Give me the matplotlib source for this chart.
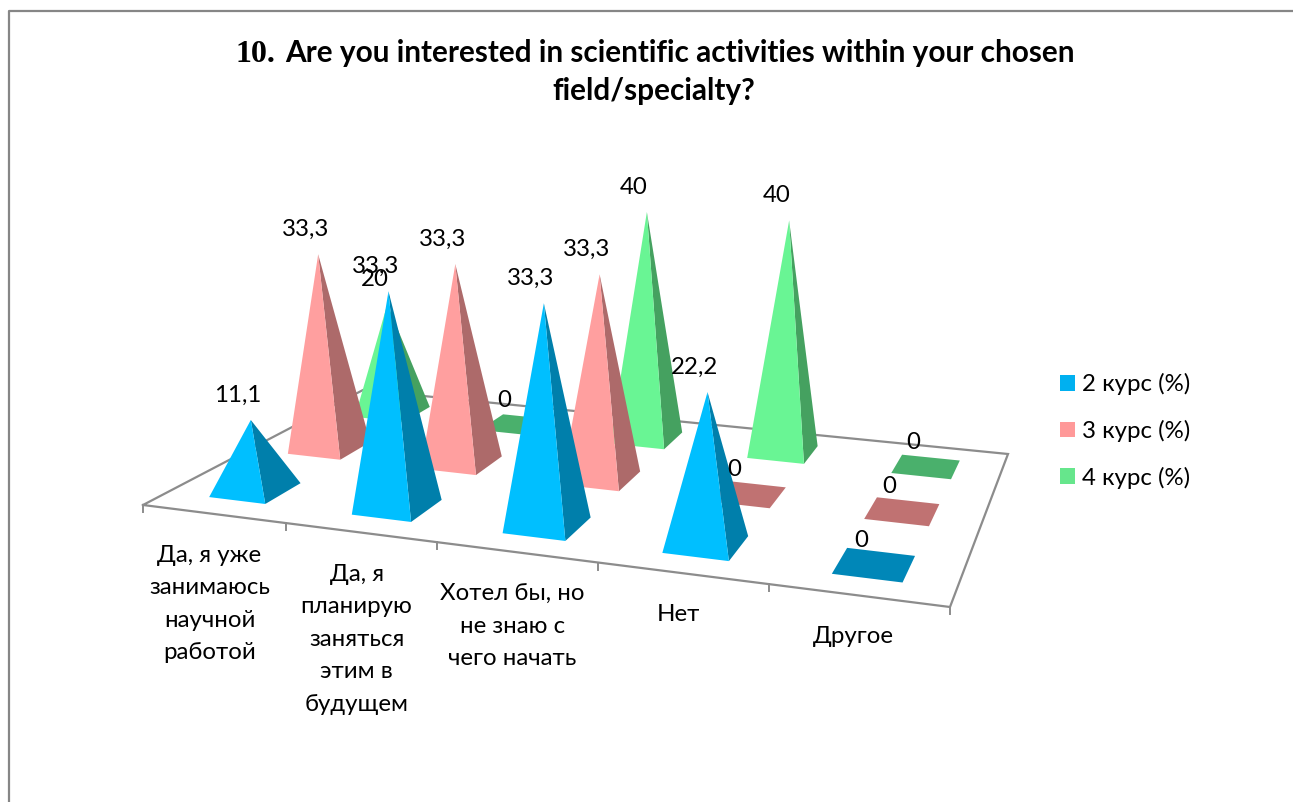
import numpy as np
import matplotlib
matplotlib.use('Agg')
import matplotlib.pyplot as plt
from matplotlib.patches import Polygon, Patch

plt.rcParams['font.family'] = ['Lato', 'Noto Sans', 'DejaVu Sans']

# data
title_num = '10.'
title_line1 = 'Are you interested in scientific activities within your chosen'
title_line2 = 'field/specialty?'
categories = [
    ['Да, я уже', 'занимаюсь', 'научной', 'работой'],
    ['Да, я', 'планирую', 'заняться', 'этим в', 'будущем'],
    ['Хотел бы, но', 'не знаю с', 'чего начать'],
    ['Нет'],
    ['Другое'],
]
series_names = ['2 курс (%)', '3 курс (%)', '4 курс (%)']
course2 = [11.1, 33.3, 33.3, 22.2, 0]
course3 = [33.3, 33.3, 33.3, 0, 0]
course4 = [20, 0, 40, 40, 0]
all_series = [course2, course3, course4]

front_col = ['#00BFFF', '#FF9F9F', '#69F594']
side_col = ['#007FAB', '#AD6A6A', '#45A160']
flat_col = ['#0087B8', '#C07272', '#4AB06C']
legend_col = ['#00B0F0', '#FF9999', '#66E68C']
grey = '#8C8C8C'

# floor corners in the picture: (category, series) -> pixels
floor_src = [(0, 0), (5, 0), (5, 3), (0, 3)]
floor_dst = [(143, 505), (950, 607), (1008, 454), (363, 390)]

A = []
b = []
for (u, v), (x, y) in zip(floor_src, floor_dst):
    A.append([u, v, 1, 0, 0, 0, -u * x, -v * x])
    A.append([0, 0, 0, u, v, 1, -u * y, -v * y])
    b.extend([x, y])
H = np.append(np.linalg.solve(np.array(A, float), np.array(b, float)), 1).reshape(3, 3)


def project(u, v, z=0):
    w = H[2, 0] * u + H[2, 1] * v + H[2, 2]
    x = (H[0, 0] * u + H[0, 1] * v + H[0, 2]) / w
    y = (H[1, 0] * u + H[1, 1] * v + H[1, 2]) / w
    # heights grow towards the viewer, verticals lean outwards a little
    return x + (x - 640) * z * 0.0011, y - z * 6.5 / w


fig = plt.figure(figsize=(12.93, 8.02), dpi=100)
ax = fig.add_axes([0, 0, 1, 1])
ax.set_xlim(0, 1293)
ax.set_ylim(802, 0)
ax.axis('off')

# chart frame
ax.plot([9, 9, 1293], [802, 11, 11], color='#868686', lw=1.6, zorder=1)

# floor outline and ticks
corners = [project(u, v) for u, v in floor_src] + [project(0, 0)]
ax.plot([c[0] for c in corners], [c[1] for c in corners], color=grey, lw=1.6, zorder=2,
        solid_joinstyle='miter')
for i in range(len(categories) + 1):
    x, y = project(i, 0)
    ax.plot([x, x], [y, y + 7], color=grey, lw=1.4, zorder=2)

half_u = 0.2
half_v = 0.225

# back row first so the front pyramids cover it
zo = 3
for s in range(len(all_series) - 1, -1, -1):
    for c in range(len(categories)):
        val = all_series[s][c]
        uc = c + 0.5
        vc = s + 0.5
        fl = project(uc - half_u, vc - half_v)
        fr = project(uc + half_u, vc - half_v)
        br = project(uc + half_u, vc + half_v)
        bl = project(uc - half_u, vc + half_v)
        if val == 0:
            ax.add_patch(Polygon([fl, fr, br, bl], fc=flat_col[s], ec='none', zorder=zo))
            top = project(uc, vc)
        else:
            top = project(uc, vc, val)
            ax.add_patch(Polygon([fr, br, top], fc=side_col[s], ec='none', zorder=zo))
            ax.add_patch(Polygon([fl, fr, top], fc=front_col[s], ec='none', zorder=zo))
        zo += 1

# value labels above everything
for s in range(len(all_series)):
    for c in range(len(categories)):
        val = all_series[s][c]
        top = project(c + 0.5, s + 0.5, val)
        ax.text(top[0] - 13, top[1] - 18, str(val).replace('.', ','), fontsize=17.3,
                ha='center', va='baseline', color='black', zorder=50)

# category labels, one text per line
for c, lines in enumerate(categories):
    x, y = project(c + 0.5, 0)
    for i, line in enumerate(lines):
        ax.text(x - 4, y + 48 + i * 32.5, line, fontsize=17.3, ha='center', va='baseline',
                color='black', zorder=50)

# title
ax.text(236, 62, title_num, fontsize=23, fontweight='bold', family=['Liberation Serif'],
        ha='left', va='baseline')
ax.text(285, 62, title_line1, fontsize=21.45, fontweight='bold', ha='left', va='baseline')
ax.text(654, 100, title_line2, fontsize=21.45, fontweight='bold', ha='center', va='baseline')

handles = [Patch(fc=col, ec='none', label=name) for col, name in zip(legend_col, series_names)]
ax.legend(handles=handles, loc='upper left', bbox_to_anchor=(1060 / 1293, 1 - 373 / 802),
          frameon=False, fontsize=17.3, handlelength=0.63, handleheight=0.63,
          handletextpad=0.3, labelspacing=1.03, borderpad=0, borderaxespad=0)

fig.savefig('out.png', dpi=100)
plt.close(fig)
